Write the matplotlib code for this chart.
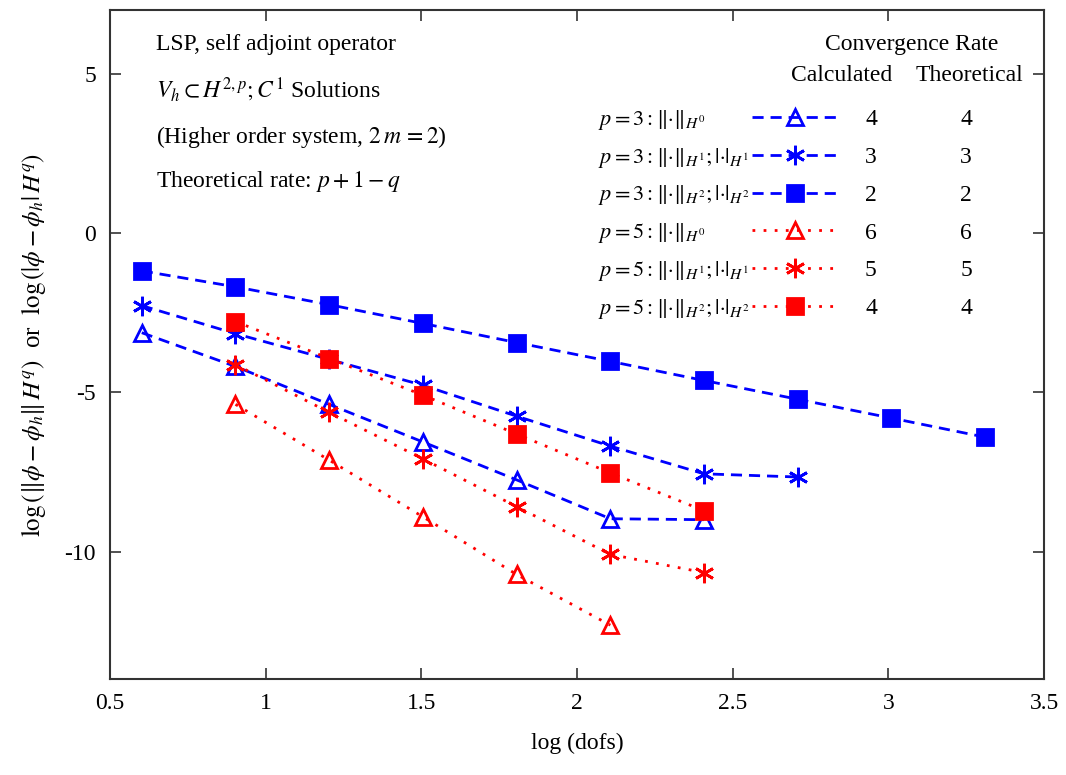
import numpy as np
import matplotlib
matplotlib.use("Agg")
from matplotlib import pyplot as plt

plt.rcParams['font.family'] = ['Liberation Serif', 'DejaVu Serif']
plt.rcParams['mathtext.fontset'] = 'stix'
plt.rcParams['axes.unicode_minus'] = False

# log10 of degrees of freedom
dofs = [0.602, 0.903, 1.204, 1.505, 1.806, 2.107, 2.408, 2.709, 3.010, 3.311]

# p = 3
p3_h0 = [-3.13, -4.19, -5.38, -6.56, -7.75, -8.97, -9.0]
p3_h1 = [-2.28, -3.16, -3.97, -4.78, -5.75, -6.69, -7.56, -7.66]
p3_h2 = [-1.19, -1.69, -2.25, -2.84, -3.44, -4.03, -4.63, -5.22, -5.81, -6.41]

# p = 5 (starts at the second mesh)
p5_h0 = [-5.38, -7.13, -8.91, -10.72, -12.31]
p5_h1 = [-4.13, -5.63, -7.09, -8.59, -10.09, -10.66]
p5_h2 = [-2.78, -3.94, -5.09, -6.31, -7.53, -8.72]

labels = [r"$p=3:\Vert·\Vert_{H^0}$",
          r"$p=3:\Vert·\Vert_{H^1};\vert·\vert_{H^1}$",
          r"$p=3:\Vert·\Vert_{H^2};\vert·\vert_{H^2}$",
          r"$p=5:\Vert·\Vert_{H^0}$",
          r"$p=5:\Vert·\Vert_{H^1};\vert·\vert_{H^1}$",
          r"$p=5:\Vert·\Vert_{H^2};\vert·\vert_{H^2}$"]
rate_calc = [4, 3, 2, 6, 5, 4]
rate_theo = [4, 3, 2, 6, 5, 4]

fs = 17
fig = plt.figure(figsize=(10.66, 7.75), dpi=100)
ax = fig.add_axes([0.1032, 0.1239, 0.8762, 0.8632])

blue = '#0000ff'
red = '#ff0000'
dash = (0, (4, 2.5))
dot = (0, (1, 3))
asterisk = (6, 2, 0)

series = [
    (dofs, p3_h0, blue, dash, '^', 'none', 12),
    (dofs, p3_h1, blue, dash, asterisk, blue, 14),
    (dofs, p3_h2, blue, dash, 's', blue, 11),
    (dofs[1:], p5_h0, red, dot, '^', 'none', 12),
    (dofs[1:], p5_h1, red, dot, asterisk, red, 14),
    (dofs[1:], p5_h2, red, dot, 's', red, 11),
]

handles = []
for xs, ys, col, ls, mk, mfc, ms in series:
    ln, = ax.plot(xs[:len(ys)], ys, color=col, linestyle=ls, linewidth=2,
                  marker=mk, markersize=ms, markerfacecolor=mfc,
                  markeredgecolor=col, markeredgewidth=2)
    handles.append(ln)

ax.set_xlim(0.5, 3.5)
ax.set_ylim(-14, 7)
ax.set_xticks(np.arange(0.5, 3.51, 0.5))
ax.set_xticklabels(['0.5', '1', '1.5', '2', '2.5', '3', '3.5'])
ax.set_yticks([-10, -5, 0, 5])
ax.tick_params(direction='in', length=8, width=1.2, top=True, right=True,
               labelsize=fs, pad=10, colors='#333333', labelcolor='black')
for s in ax.spines.values():
    s.set_linewidth(1.5)
    s.set_color('#333333')

ax.set_xlabel('log (dofs)', fontsize=fs, labelpad=14)
ax.set_ylabel(r"$\log\left(\Vert\phi-\phi_h\Vert\,H^q\right)$  or  "
              r"$\log\left(\vert\phi-\phi_h\vert\,H^q\right)$",
              fontsize=18, labelpad=12)

# notes, upper left
notes = ["LSP, self adjoint operator",
         r"$V_h\subset H^{2,p};C^1$ Solutions",
         r"(Higher order system, $2\,m\,=2$)",
         r"Theoretical rate: $p+1-q$"]
for txt, yy in zip(notes, [0.9477, 0.880, 0.810, 0.743]):
    ax.text(0.049, yy, txt, transform=ax.transAxes, fontsize=fs,
            ha='left', va='center')

# legend: handle + calculated rate
leg = ax.legend(handles, [str(r) for r in rate_calc], loc='upper left',
                bbox_to_anchor=(0.687, 0.8525), borderaxespad=0, borderpad=0,
                frameon=False, fontsize=fs, handlelength=3.7,
                handletextpad=1.1, labelspacing=0.69, numpoints=1)

ax.text(0.8587, 0.9477, 'Convergence Rate', transform=ax.transAxes,
        fontsize=fs, ha='center', va='center')
ax.text(0.7837, 0.9028, 'Calculated', transform=ax.transAxes,
        fontsize=fs, ha='center', va='center')
ax.text(0.9200, 0.9028, 'Theoretical', transform=ax.transAxes,
        fontsize=fs, ha='center', va='center')

fig.canvas.draw()
inv = ax.transAxes.inverted()
for t, lab, th in zip(leg.get_texts(), labels, rate_theo):
    bb = t.get_window_extent()
    yc = inv.transform((0, (bb.y0 + bb.y1) / 2))[1]
    ax.text(0.5225, yc, lab, transform=ax.transAxes, fontsize=16,
            ha='left', va='center')
    ax.text(0.9165, yc, str(th), transform=ax.transAxes, fontsize=fs,
            ha='center', va='center')

fig.savefig('out.png', dpi=100)
